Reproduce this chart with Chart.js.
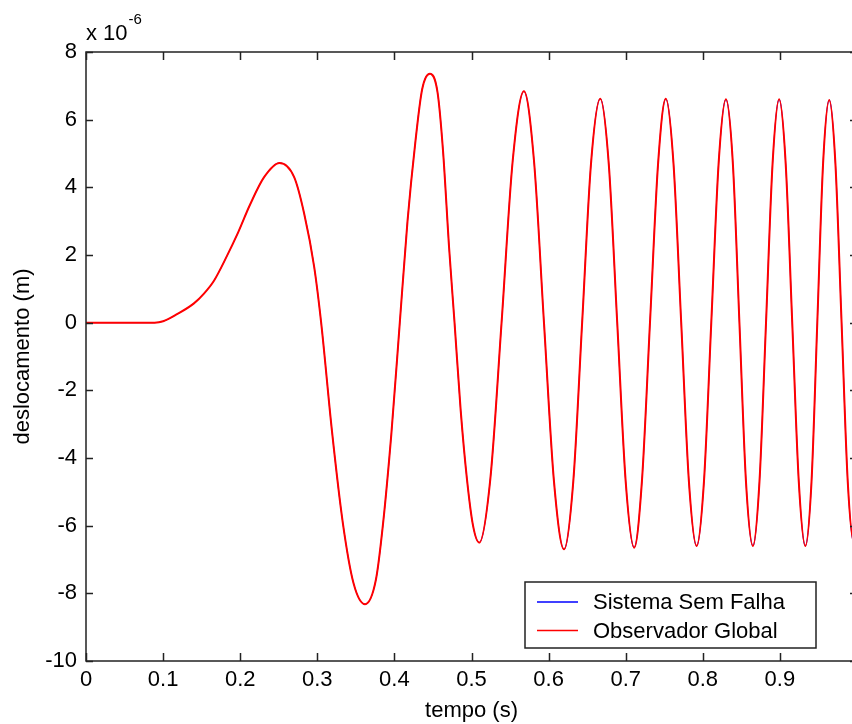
<!DOCTYPE html>
<html><head><meta charset="utf-8">
<script src="https://cdn.jsdelivr.net/npm/chart.js@4.4.1/dist/chart.umd.min.js"></script>
<style>
html,body{margin:0;padding:0;background:#fff;overflow:hidden;width:852px;height:724px}
#wrap{position:relative;width:852px;height:724px;overflow:hidden}
canvas{display:block}
</style></head><body>
<div id="wrap"><canvas id="c" width="870" height="724" style="width:870px;height:724px"></canvas></div>
<script>
// time (s)
const time = [0, 0.05, 0.089, 0.100, 0.118, 0.140, 0.153, 0.166, 0.183, 0.196,
  0.213, 0.231, 0.251, 0.270, 0.283, 0.296, 0.305, 0.319, 0.333, 0.347,
  0.362, 0.376, 0.385, 0.396, 0.407, 0.417, 0.427, 0.436, 0.446, 0.456,
  0.463, 0.471, 0.478, 0.486, 0.494, 0.502, 0.510, 0.5245, 0.539, 0.5535,
  0.568, 0.581, 0.594, 0.607, 0.620, 0.632, 0.6435, 0.655, 0.667, 0.678,
  0.689, 0.700, 0.711, 0.721, 0.7315, 0.742, 0.752, 0.762, 0.772, 0.782,
  0.792, 0.8015, 0.811, 0.8205, 0.830, 0.839, 0.8475, 0.856, 0.865, 0.8735,
  0.882, 0.8905, 0.899, 0.9075, 0.916, 0.9245, 0.933, 0.941, 0.9485, 0.956,
  0.964, 0.972, 0.980, 0.988, 0.996, 1.0];
// displacement (x 10^-6 m)
const displacement = [0, 0, 0, 0.04, 0.25, 0.57, 0.86, 1.24, 1.98, 2.60,
  3.50, 4.30, 4.72, 4.30, 3.22, 1.64, 0, -3.2, -5.9, -7.7,
  -8.32, -7.6, -6.0, -3.3, 0, 3.0, 5.3, 6.9, 7.36, 6.8,
  5.1, 2.2, 0, -2.6, -4.6, -6.0, -6.50, -4.6, 0, 4.8,
  6.84, 4.8, 0, -4.7, -6.70, -4.7, 0, 4.7, 6.62, 4.7,
  0, -4.7, -6.65, -4.7, 0, 4.7, 6.62, 4.7, 0, -4.7,
  -6.60, -4.7, 0, 4.7, 6.60, 4.7, 0, -4.7, -6.60, -4.7,
  0, 4.7, 6.60, 4.7, 0, -4.7, -6.60, -4.7, 0, 4.7,
  6.58, 4.7, 0, -4.7, -6.50, -6.45];
const seriesLabels = ['Sistema Sem Falha', 'Observador Global'];
const seriesColors = ['#0000ff', '#ff0000'];
const xTickValues = [0, 0.1, 0.2, 0.3, 0.4, 0.5, 0.6, 0.7, 0.8, 0.9, 1];
const yTickValues = [-10, -8, -6, -4, -2, 0, 2, 4, 6, 8];
const xTitle = 'tempo (s)';
const yTitle = 'deslocamento (m)';
const exponentBase = 'x 10';
const exponentPow = '-6';

const FONT = "'Liberation Sans', Arial, sans-serif";
const AXIS = '#222';

const pts = time.map((t, i) => ({x: t, y: displacement[i]}));

const framePlugin = {
  id: 'frame',
  afterDatasetsDraw(chart) {
    const {ctx, chartArea: a, scales: {x, y}} = chart;
    ctx.save();
    ctx.strokeStyle = AXIS;
    ctx.lineWidth = 1.5;
    ctx.strokeRect(a.left, a.top, a.right - a.left, a.bottom - a.top);
    ctx.beginPath();
    x.ticks.forEach(t => {
      const px = Math.round(x.getPixelForValue(t.value)) + 0.5;
      ctx.moveTo(px, a.bottom); ctx.lineTo(px, a.bottom - 8);
      ctx.moveTo(px, a.top); ctx.lineTo(px, a.top + 8);
    });
    y.ticks.forEach(t => {
      const py = Math.round(y.getPixelForValue(t.value)) + 0.5;
      ctx.moveTo(a.left, py); ctx.lineTo(a.left + 7, py);
      ctx.moveTo(a.right, py); ctx.lineTo(a.right - 7, py);
    });
    ctx.stroke();
    ctx.restore();
  },
  afterDraw(chart) {
    const {ctx, chartArea: a} = chart;
    ctx.save();
    // exponent label
    ctx.fillStyle = '#000';
    ctx.textBaseline = 'alphabetic';
    ctx.textAlign = 'left';
    ctx.font = '22px ' + FONT;
    ctx.fillText(exponentBase, a.left, a.top - 12);
    const w = ctx.measureText(exponentBase).width;
    ctx.font = '15px ' + FONT;
    ctx.fillText(exponentPow, a.left + w + 1, a.top - 28);
    // legend
    const lx = 525, ly = 582, lw = 291, lh = 66;
    ctx.fillStyle = '#fff';
    ctx.fillRect(lx, ly, lw, lh);
    ctx.strokeStyle = AXIS;
    ctx.lineWidth = 1.5;
    ctx.strokeRect(lx, ly, lw, lh);
    ctx.font = '22px ' + FONT;
    ctx.textBaseline = 'middle';
    chart.data.datasets.forEach((ds, i) => {
      const yy = ly + 20 + i * 28.5;
      ctx.strokeStyle = ds.borderColor;
      ctx.lineWidth = 1.5;
      ctx.beginPath(); ctx.moveTo(lx + 12, yy); ctx.lineTo(lx + 53, yy); ctx.stroke();
      ctx.fillStyle = '#000';
      ctx.fillText(ds.label, lx + 68, yy + 1);
    });
    ctx.restore();
  }
};

new Chart(document.getElementById('c'), {
  type: 'line',
  data: {
    datasets: [
      {label: seriesLabels[0], data: pts, borderColor: seriesColors[0], borderWidth: 1, pointRadius: 0, cubicInterpolationMode: 'monotone', order: 1},
      {label: seriesLabels[1], data: pts, borderColor: seriesColors[1], borderWidth: 2, pointRadius: 0, cubicInterpolationMode: 'monotone', order: 0}
    ]
  },
  options: {
    responsive: false,
    devicePixelRatio: 1,
    animation: false,
    parsing: false,
    layout: {padding: {top: 52, right: 13, left: 0, bottom: 0}},
    plugins: {legend: {display: false}, tooltip: {enabled: false}},
    scales: {
      x: {
        type: 'linear', min: 0, max: 1,
        afterBuildTicks: s => { s.ticks = xTickValues.map(v => ({value: v})); },
        afterFit: s => { s.height = 63; },
        grid: {display: false, drawTicks: false, tickLength: 0},
        border: {display: false},
        ticks: {color: '#000', font: {family: FONT, size: 22}, padding: 6, maxRotation: 0, autoSkip: false,
                callback: v => String(+v.toFixed(1))},
        title: {display: true, text: xTitle, color: '#000', font: {family: FONT, size: 22}, padding: {top: 0, bottom: 0}}
      },
      y: {
        type: 'linear', min: -10, max: 8,
        afterBuildTicks: s => { s.ticks = yTickValues.map(v => ({value: v})); },
        afterFit: s => { s.width = 86; },
        grid: {display: false, drawTicks: false, tickLength: 0},
        border: {display: false},
        ticks: {color: '#000', font: {family: FONT, size: 22}, padding: 9, autoSkip: false,
                callback: v => String(v)},
        title: {display: true, text: yTitle, color: '#000', font: {family: FONT, size: 22}, padding: {top: 10, bottom: 0}}
      }
    }
  },
  plugins: [framePlugin]
});
</script>
</body></html>
